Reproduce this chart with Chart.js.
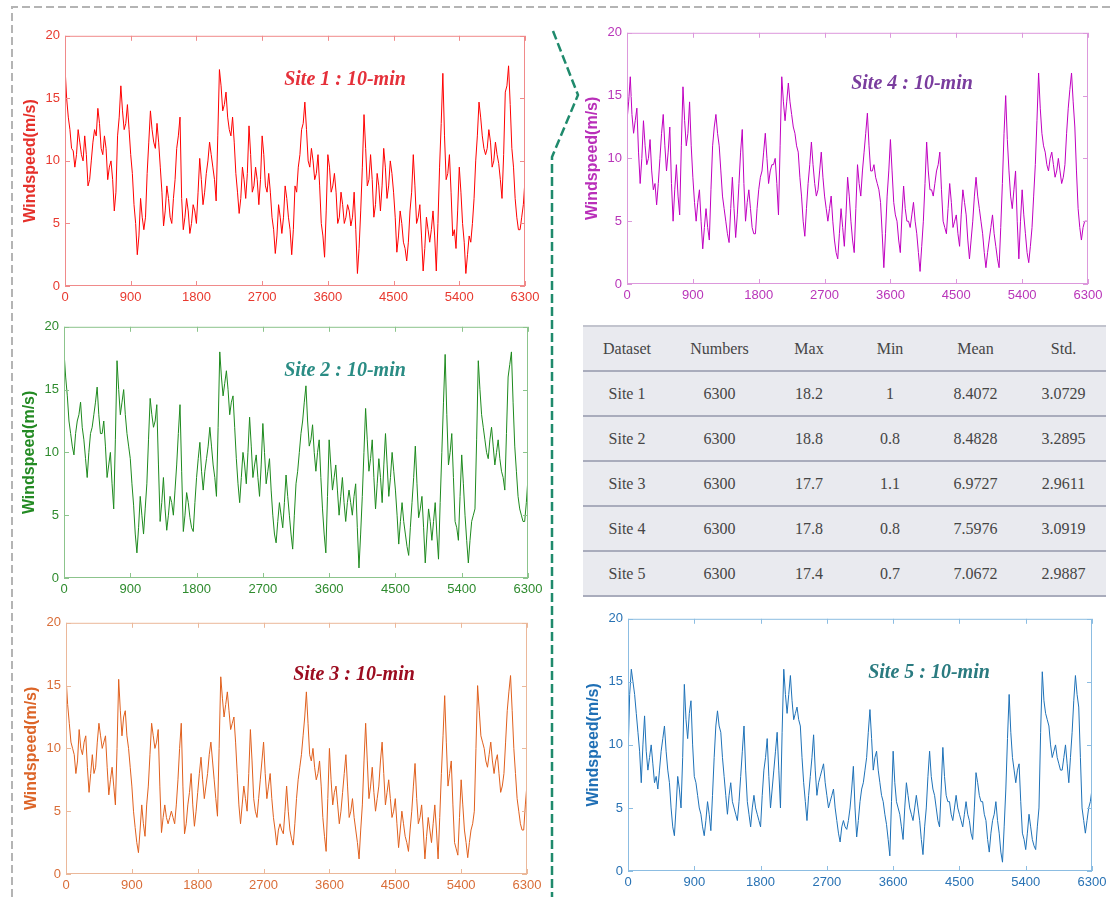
<!DOCTYPE html>
<html>
<head>
<meta charset="utf-8">
<script src="https://cdn.jsdelivr.net/npm/chart.js@4.4.1/dist/chart.umd.min.js"></script>
<style>
  body { margin: 0; background: #fff; width: 1113px; height: 897px; overflow: hidden; position: relative; }
  .box { position: absolute; }
  .site-title { position: absolute; font-family: "Liberation Serif", serif; font-weight: bold; font-style: italic; font-size: 20px; white-space: nowrap; transform: translate(-50%, -50%); }
  .stats { position: absolute; left: 583px; top: 325px; width: 523px; border-collapse: collapse; background: #e9eaef; font-family: "Liberation Serif", serif; font-size: 16px; color: #454545; table-layout: fixed; border-top: 2px solid #c2c4ce; }
  .stats td, .stats th { height: 43px; padding: 0; text-align: center; font-weight: normal; border-bottom: 2px solid #a9acbc; }
  svg.lines { position: absolute; left: 0; top: 0; }
</style>
</head>
<body>

<svg class="lines" width="1113" height="897">
  <polyline points="12,897 12,7 1113,7" fill="none" stroke="#b4b4b4" stroke-width="2" stroke-dasharray="8 4"/>
  <polyline points="553,31 578,95 552,157 552,897" fill="none" stroke="#1f8a6c" stroke-width="2.5" stroke-dasharray="9 4"/>
</svg>

<div class="box" id="b1"><canvas id="c1"></canvas></div>
<div class="box" id="b2"><canvas id="c2"></canvas></div>
<div class="box" id="b3"><canvas id="c3"></canvas></div>
<div class="box" id="b4"><canvas id="c4"></canvas></div>
<div class="box" id="b5"><canvas id="c5"></canvas></div>

<div class="site-title" style="left:345px; top:78px; color:#e5303a;">Site 1 : 10-min</div>
<div class="site-title" style="left:345px; top:369px; color:#2a8c84;">Site 2 : 10-min</div>
<div class="site-title" style="left:354px; top:673px; color:#9c0c20;">Site 3 : 10-min</div>
<div class="site-title" style="left:912px; top:82px; color:#7a3d9e;">Site 4 : 10-min</div>
<div class="site-title" style="left:929px; top:671px; color:#2a7b80;">Site 5 : 10-min</div>

<table class="stats">
  <colgroup><col style="width:88px"><col style="width:97px"><col style="width:82px"><col style="width:80px"><col style="width:91px"><col style="width:85px"></colgroup>
  <thead></thead>
  <tbody></tbody>
</table>

<script>
// values read every 45 steps (0 .. 6300), plus the values half way between them
const timeStep = 45;
const xTicks = [0, 900, 1800, 2700, 3600, 4500, 5400, 6300];
const yTicks = [0, 5, 10, 15, 20];

const site1 = [17.5, 13.5, 11, 9.5, 12.5, 10.5, 12, 8, 10, 12.5, 14.2, 11, 12, 8.5, 10, 6, 12, 16, 12.5, 14.5,
  10.5, 6.5, 2.5, 7, 4.5, 9, 14, 11.5, 13, 9.5, 4.8, 8, 5.5, 7, 11, 13.5, 4.5, 7, 4.2, 6.5,
  5, 10.2, 6.5, 9, 11.5, 9.5, 6.8, 17.3, 14, 15.5, 12.5, 13.5, 9, 5.8, 9.5, 7, 12.8, 7.5, 9.5, 6.5,
  12, 8, 9, 5.5, 2.6, 6.5, 4.2, 8, 5.5, 2.5, 8, 9.5, 12.5, 14.7, 10, 11, 8.5, 10.5, 5, 2.3,
  10.5, 7.5, 9, 5, 7.5, 5, 6.5, 4.8, 7.5, 1, 6, 13.7, 8, 10.5, 5.5, 9, 6, 11, 7, 10,
  7.5, 2.7, 6, 3.5, 2, 6, 10.5, 5, 6.5, 1.2, 5.5, 3.5, 6, 1.2, 9.5, 17, 8.5, 10.5, 4, 3,
  9.5, 5, 1, 4, 5, 10, 14.7, 12, 10.5, 12.5, 9.5, 11.5, 9.8, 7, 15.5, 17.6, 11, 7, 4.5, 5.5, 8.5];
const site1Between = [15, 12.5, 10.8, 10.5, 11.5, 10, 10.5, 8.5, 11.5, 12, 13, 10.5, 11, 9.5, 8.5, 7.5, 13.5, 14, 13, 12.5,
  9, 5, 4, 5.5, 5.5, 11.5, 12.5, 11, 11.5, 7.5, 6, 7, 5, 8.5, 12, 7, 5.5, 6, 5, 6,
  7.5, 8.5, 7.5, 10, 10.5, 8.5, 12, 16, 14.5, 13.5, 12, 11.5, 7.5, 7, 8.5, 9, 10.5, 8, 8.5, 8.5,
  10.5, 7.5, 7.5, 4.5, 4, 5.5, 5.5, 7, 4.5, 4.5, 7.5, 10.5, 13, 12.5, 9.5, 10, 9, 8, 4, 6,
  9.5, 8, 7.5, 5.5, 6.5, 5.5, 6, 5.5, 4.5, 3, 9.5, 11, 8.5, 8.5, 6.5, 8, 8, 9.5, 8, 9,
  5.5, 4, 5, 3, 3.5, 7.5, 8, 5.5, 4, 3, 4.5, 4.5, 4, 5, 13, 12, 9, 7.5, 4.5, 6,
  7.5, 3.5, 2.5, 3.5, 7, 12, 13.5, 11, 11, 11.5, 10, 10.5, 8.5, 10.5, 16, 14.5, 9.5, 5.5, 4.5, 6.5];

const site2 = [18, 14.5, 11.5, 9.8, 12.5, 14, 11, 8, 11.5, 13, 15.2, 11.5, 12.5, 8, 10, 5.5, 17.3, 13, 15, 11.5,
  9.5, 5.8, 2, 6.5, 3.5, 7.5, 14.3, 12, 13.8, 4.5, 8, 3.8, 6.5, 5, 9, 13.8, 3.7, 6.8, 4.8, 3.7,
  8, 10.8, 7, 9.5, 12, 9, 6.5, 18, 14.5, 16.5, 13, 14.5, 9.5, 6, 10, 7.5, 12.8, 8, 9.8, 6.5,
  12.3, 7.5, 9.5, 5, 2.8, 6, 4, 8.2, 5, 2.3, 7.5, 10, 12.5, 15.3, 10.5, 12.2, 8.5, 11, 5.5, 2,
  11, 7, 9, 5, 8, 4.5, 7, 5, 7.5, 0.8, 6.5, 13.5, 8.5, 11, 5.5, 9.5, 6, 11.5, 6.5, 10,
  7, 2.7, 6, 3.5, 1.8, 6, 10.5, 4.8, 6.5, 1.2, 5.5, 3, 6, 1.5, 10, 17.8, 9, 11.5, 4.5, 3,
  9.8, 5, 1.2, 4.5, 5.5, 17.3, 13, 11, 9.5, 12, 9, 11, 8.5, 7, 16, 18, 10.5, 6.5, 5, 4.5, 8];
const site2Between = [16, 12.5, 10.5, 11.5, 13, 12, 9.5, 10, 12, 14, 13, 11.5, 10.5, 9, 7.5, 11, 15, 14, 13, 10.5,
  7.5, 3.5, 4, 5, 5.5, 11, 13, 12.5, 9, 6, 5.5, 5, 6, 7, 11.5, 8.5, 5, 6, 4, 6,
  9.5, 8.5, 8.5, 10.5, 10.5, 8, 12, 16, 15.5, 15, 14, 12, 7.5, 8, 9, 10, 10.5, 9, 8, 9,
  10, 8.5, 7, 3.5, 4.5, 5, 6, 6.5, 3.5, 5, 8.5, 11.5, 14, 12.5, 11, 10, 10, 8, 3.5, 6.5,
  9, 8, 7, 6.5, 6, 6, 6, 6.5, 4, 3.5, 10, 11, 9.5, 8, 7.5, 8, 9, 9, 8, 8.5,
  5, 4.5, 4.5, 2.5, 4, 8, 7.5, 5.5, 4, 3.5, 4.5, 4.5, 3.5, 6, 14, 13, 10, 8, 4, 6.5,
  7.5, 3, 3, 5, 11, 15, 12, 10, 11, 10.5, 10, 9.5, 8, 11.5, 17, 14, 8.5, 5.5, 4.5, 6];

const site3 = [15.7, 12, 10, 8, 11.5, 9.5, 11, 6.5, 9.5, 8.5, 12, 10, 11, 6.3, 8.5, 5.5, 15.5, 11, 13, 10,
  7, 3.7, 1.7, 5.5, 3, 7, 12, 10, 11.5, 3.3, 5.5, 4, 5, 4, 7.5, 12, 3.2, 5.5, 8, 3.8,
  6.5, 9.3, 6, 8, 10.5, 7.5, 4.6, 15.7, 12.5, 14.5, 11.5, 12.5, 8, 4, 7, 5, 11.5, 6, 4.5, 7.5,
  10.5, 6, 8, 4.5, 2.3, 4, 3.2, 7, 3.5, 2.3, 6, 8.5, 11, 14.5, 9.5, 10, 7.5, 9, 4.5, 1.8,
  10, 5.5, 7, 4, 6.5, 9.5, 4.5, 6, 3.5, 1.2, 5.5, 12, 6, 8.5, 5, 7, 10.5, 5.5, 7.5, 4.5,
  6, 2.1, 5, 3, 1.8, 5, 8.8, 4, 5.5, 1.2, 4.5, 2.5, 5.5, 1.2, 8, 14.2, 7, 9, 2.5, 1.5,
  7.5, 3.5, 1.3, 3.5, 5, 15, 11, 10, 8.5, 10.5, 8, 9.5, 6.5, 8, 13, 15.8, 10, 6, 4, 3.5, 7.2];
const site3Between = [13.5, 10.5, 9.5, 9, 10, 10.5, 8.5, 8, 8, 10.5, 11, 10.5, 8.5, 7.5, 7, 10, 13, 12.5, 11, 8.5,
  5, 2.5, 3.5, 4, 5.5, 9.5, 11, 10.5, 7, 4.5, 4.5, 4.5, 4.5, 5.5, 10, 7, 4, 6.5, 5.5, 5,
  8, 7.5, 7, 9.5, 9, 6, 10, 14, 13.5, 13, 12, 10.5, 5.5, 5.5, 6, 8, 9, 5, 6, 9,
  8, 7, 6, 3.5, 3.5, 3.5, 5, 5, 2.8, 4, 7.5, 9.5, 12.5, 12, 9, 8.5, 8, 7, 3, 6,
  7.5, 6.5, 5.5, 5, 8, 7, 5, 4.5, 2.5, 3.5, 9, 9, 7, 6.5, 6, 9, 8, 6.5, 6, 5,
  4, 3.5, 4, 2.5, 3.5, 7, 6, 4.5, 3.5, 3, 3.5, 4, 3.5, 4.5, 11, 10.5, 8, 5.5, 2, 4.5,
  5.5, 2.5, 2.5, 4, 10, 13, 10.5, 9, 9.5, 9, 9, 8, 7, 10.5, 14.5, 13, 8, 5, 3.5, 5.5];

const site4 = [13, 16.5, 12, 14, 8, 13, 9.5, 11.5, 7.5, 6.3, 10, 13.5, 9, 12.5, 5, 9.5, 5.5, 15.7, 11, 14.5,
  8.5, 5, 7.5, 2.8, 6, 3.5, 11, 13.5, 11, 7, 5, 3.3, 8.5, 3.7, 8, 12.3, 5, 7.5, 4.5, 4,
  7.5, 9, 12, 8, 9.5, 10, 5.5, 16.5, 13, 16, 13.5, 12, 10.5, 7, 3.8, 8, 11.3, 8, 7.5, 10.5,
  7, 5, 7, 3.5, 2, 6, 3, 8.5, 5, 2.5, 9.5, 7, 10.5, 13.6, 9, 9.5, 8, 6.5, 1.3, 7,
  11.5, 6.5, 5, 2.5, 7.8, 5, 4.5, 6.5, 4, 1, 5, 11.3, 7.5, 7, 9, 10.5, 5, 4, 8, 4.5,
  5.5, 3, 7.5, 5.5, 2, 5, 8.5, 6, 4, 1.3, 3.5, 5.5, 3, 1.3, 8, 15, 9, 6, 9, 2,
  7.5, 4, 1.7, 4.5, 9.5, 16.8, 12, 10.5, 9, 10.5, 8.5, 10, 8, 9.5, 14, 16.8, 12.5, 6, 3.5, 5, 5];
const site4Between = [14.5, 13.5, 13, 10.5, 10, 11, 10, 9, 8, 8, 12, 11, 10.5, 8, 7.5, 7, 11, 13, 12, 11,
  6.5, 6.5, 5, 4.5, 4.5, 7.5, 12.5, 12, 9, 6, 4, 6, 6, 5.5, 10.5, 8, 6.5, 6, 4, 6,
  8.5, 10.5, 10, 9, 9.5, 8, 11, 14.5, 14.5, 14.5, 12.5, 11, 8.5, 5, 6, 9.5, 9.5, 7, 9, 8.5,
  6, 6, 5, 2.5, 4, 4.5, 5.5, 7, 3.5, 6, 8, 9, 12, 11, 9, 8.5, 7.5, 4, 4, 9,
  9, 5.5, 3.5, 5.5, 6, 5, 5.5, 5, 2.5, 3, 8, 9, 7.5, 8, 9.5, 7.5, 4.5, 6, 6.5, 5,
  4, 5.5, 6.5, 3.5, 3.5, 7, 7, 5, 2.5, 2.5, 4.5, 4, 2, 4.5, 12, 11.5, 7, 7.5, 5, 5,
  5.5, 2.5, 3, 7, 13, 14, 11, 9.5, 10, 9.5, 9, 9, 8.5, 12, 15.5, 14.5, 9, 4.5, 4.5, 5];

const site5 = [9, 16, 14, 11, 7, 12.3, 8, 10, 7, 6.5, 9.5, 11.5, 8, 5, 2.8, 7.5, 5, 14.8, 10.5, 13.5,
  7.5, 6, 4.5, 2.8, 5.5, 3.2, 9, 12.7, 11, 7.5, 4.5, 7, 5, 4, 7.5, 11.5, 5.5, 3.5, 6, 4.5,
  3.5, 8, 10.5, 5, 8, 11, 5, 16, 12.5, 15.5, 12, 13, 11.5, 7, 4, 7.5, 10.8, 6, 7.5, 8.5,
  6, 5.5, 6.5, 4, 2.3, 4, 3.3, 5, 8.3, 2.7, 5.5, 7, 9, 12.8, 8, 9.5, 7, 5.5, 3.7, 1.2,
  9.5, 5.5, 4.5, 2.5, 7, 5, 4, 6, 4, 1.3, 5, 9.5, 6.5, 5, 3.5, 9.8, 6, 5.5, 4, 6,
  4.5, 3.5, 5.5, 4, 2.5, 7.8, 6, 5.5, 4, 1.5, 4, 5.5, 3, 0.7, 6.5, 14, 9, 7, 8.5, 3,
  1.7, 4.5, 2.5, 1.7, 5, 15.8, 12.5, 11.5, 9, 10, 8.5, 8, 10, 7, 11, 15.5, 13, 5, 3, 5, 6.5];
const site5Between = [14, 15, 12.5, 9.5, 10, 9.5, 9, 8.5, 7.5, 8, 10.5, 9.5, 7, 3.5, 5, 6.5, 9, 12, 12.5, 10,
  7, 5, 3.5, 4, 4.5, 6, 11.5, 11.5, 9, 6, 6, 5.5, 4.5, 5.5, 9.5, 8, 4.5, 5, 5, 4,
  6, 9, 7.5, 6.5, 9.5, 8, 11, 14, 14, 13.5, 12.5, 12, 9, 5.5, 6, 9, 8, 7, 8, 7,
  5, 6, 5, 3, 3.5, 3.5, 4, 6.5, 5, 4, 6.5, 8, 11, 10.5, 9, 8, 6, 4.5, 2.5, 5.5,
  7, 5, 3.5, 5, 6, 4.5, 5, 5, 2.5, 3.5, 7.5, 7.5, 6, 4, 6.5, 7.5, 5.5, 4.5, 5, 5,
  4, 4.5, 4.5, 3, 5, 7, 5.5, 4.5, 2.5, 3, 4.5, 4, 1.5, 3.5, 10.5, 11, 8, 8, 5.5, 2.5,
  3, 3.5, 2, 3.5, 11, 13.5, 12, 10, 9.5, 9, 8, 9, 8.5, 9, 13.5, 14, 9, 4, 4, 5.5];

const tableHeader = ["Dataset", "Numbers", "Max", "Min", "Mean", "Std."];
const tableRows = [
  ["Site 1", "6300", "18.2", "1", "8.4072", "3.0729"],
  ["Site 2", "6300", "18.8", "0.8", "8.4828", "3.2895"],
  ["Site 3", "6300", "17.7", "1.1", "6.9727", "2.9611"],
  ["Site 4", "6300", "17.8", "0.8", "7.5976", "3.0919"],
  ["Site 5", "6300", "17.4", "0.7", "7.0672", "2.9887"],
];

// table
document.querySelector(".stats thead").innerHTML =
  "<tr>" + tableHeader.map(h => `<th>${h}</th>`).join("") + "</tr>";
document.querySelector(".stats tbody").innerHTML = tableRows
  .map(r => "<tr>" + r.map(c => `<td>${c}</td>`).join("") + "</tr>")
  .join("");

Chart.defaults.font.family = "'Liberation Sans', Arial, sans-serif";

// box round the plot and little ticks pointing inwards, like matlab
const framePlugin = {
  id: "frame",
  afterDatasetsDraw(chart, args, opts) {
    const { ctx, chartArea: a, scales: { x, y } } = chart;
    ctx.save();
    ctx.strokeStyle = opts.color;
    ctx.lineWidth = 1;
    ctx.strokeRect(a.left + 0.5, a.top + 0.5, a.width - 1, a.height - 1);
    ctx.beginPath();
    x.ticks.forEach(t => {
      const px = Math.round(x.getPixelForValue(t.value)) + 0.5;
      ctx.moveTo(px, a.bottom); ctx.lineTo(px, a.bottom - 5);
      ctx.moveTo(px, a.top); ctx.lineTo(px, a.top + 5);
    });
    y.ticks.forEach(t => {
      const py = Math.round(y.getPixelForValue(t.value)) + 0.5;
      ctx.moveTo(a.left, py); ctx.lineTo(a.left + 5, py);
      ctx.moveTo(a.right, py); ctx.lineTo(a.right - 5, py);
    });
    ctx.stroke();
    ctx.restore();
  }
};

const LEFT = 48, TOP = 10, RIGHT = 20, BOTTOM = 26;

// put the in-between readings back in order
function toPoints(values, between) {
  const points = [];
  values.forEach((v, i) => {
    points.push({ x: i * timeStep, y: v });
    if (i < between.length) points.push({ x: i * timeStep + timeStep / 2, y: between[i] });
  });
  return points;
}

function makeChart(n, points, plot, colors) {
  const box = document.getElementById("b" + n);
  box.style.left = (plot.left - LEFT) + "px";
  box.style.top = (plot.top - TOP) + "px";
  box.style.width = (plot.right - plot.left + LEFT + RIGHT) + "px";
  box.style.height = (plot.bottom - plot.top + TOP + BOTTOM) + "px";

  new Chart(document.getElementById("c" + n), {
    type: "line",
    data: {
      datasets: [{
        data: points,
        borderColor: colors.line,
        borderWidth: 1,
        pointRadius: 0,
        tension: 0,
        fill: false,
      }],
    },
    options: {
      responsive: true,
      maintainAspectRatio: false,
      animation: false,
      layout: { padding: { top: TOP, right: RIGHT, bottom: 0, left: 0 } },
      plugins: {
        legend: { display: false },
        tooltip: { enabled: false },
        frame: { color: colors.frame },
      },
      scales: {
        x: {
          type: "linear",
          min: 0,
          max: 6300,
          afterBuildTicks(scale) { scale.ticks = xTicks.map(v => ({ value: v })); },
          afterFit(scale) { scale.height = BOTTOM; },
          grid: { display: false, drawTicks: false },
          border: { display: false },
          ticks: {
            color: colors.text, font: { size: 13 }, padding: 4, maxRotation: 0, autoSkip: false,
            callback: v => String(v),
          },
        },
        y: {
          min: 0,
          max: 20,
          afterBuildTicks(scale) { scale.ticks = yTicks.map(v => ({ value: v })); },
          afterFit(scale) { scale.width = LEFT; },
          grid: { display: false, drawTicks: false },
          border: { display: false },
          ticks: { color: colors.text, font: { size: 13 }, padding: 5, callback: v => String(v) },
          title: {
            display: true,
            text: "Windspeed(m/s)",
            color: colors.label,
            font: { size: 16, weight: "bold" },
            padding: { top: 4, bottom: 0 },
          },
        },
      },
    },
    plugins: [framePlugin],
  });
}

makeChart(1, toPoints(site1, site1Between), { left: 65, right: 525, top: 33, bottom: 286 },
  { line: "#ff0000", frame: "#f08a8a", text: "#e8392f", label: "#e5302a" });
makeChart(2, toPoints(site2, site2Between), { left: 64, right: 528, top: 324, bottom: 578 },
  { line: "#1e8a1e", frame: "#8cc48c", text: "#2e8b2e", label: "#238a23" });
makeChart(3, toPoints(site3, site3Between), { left: 66, right: 527, top: 620, bottom: 874 },
  { line: "#e0601e", frame: "#ebb89a", text: "#d96d38", label: "#dc6528" });
makeChart(4, toPoints(site4, site4Between), { left: 627, right: 1088, top: 30, bottom: 284 },
  { line: "#c000c0", frame: "#dc98dc", text: "#b935b9", label: "#b92fb9" });
makeChart(5, toPoints(site5, site5Between), { left: 628, right: 1092, top: 616, bottom: 871 },
  { line: "#1f72b8", frame: "#8cbde2", text: "#2872b4", label: "#1f6fb5" });
</script>
</body>
</html>
